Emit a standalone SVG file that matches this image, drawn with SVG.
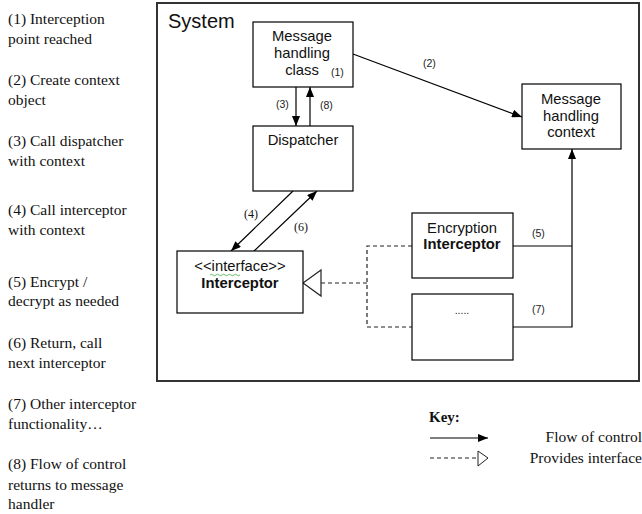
<svg xmlns="http://www.w3.org/2000/svg" width="642" height="514" viewBox="0 0 642 514">
<defs>
<marker id="arr" markerWidth="10" markerHeight="8" refX="10" refY="4" orient="auto" markerUnits="userSpaceOnUse">
<path d="M0,0 L10,4 L0,8 Z" fill="#000"/>
</marker>
<style>
.bx{fill:#fff;stroke:#000;stroke-width:1.2}
.ln{fill:none;stroke:#000;stroke-width:1.2}
.ds{fill:none;stroke:#222;stroke-width:1.2;stroke-dasharray:4,3}
.s{font-family:"Liberation Sans",Arial,sans-serif;font-size:14.8px;fill:#111;text-anchor:middle}
.b{font-weight:bold}
.sm{font-family:"Liberation Sans",Arial,sans-serif;font-size:10.5px;fill:#222}
.sr{font-family:"Liberation Serif","Times New Roman",serif;font-size:15.5px;fill:#111}
.srs{font-family:"Liberation Serif","Times New Roman",serif;font-size:12px;fill:#111}
</style>
</defs>
<rect width="642" height="514" fill="#fff"/>
<g id="legend-text" class="sr">
<text x="8" y="24">(1) Interception</text>
<text x="8" y="44">point reached</text>
<text x="8" y="85">(2) Create context</text>
<text x="8" y="105">object</text>
<text x="8" y="146">(3) Call dispatcher</text>
<text x="8" y="166">with context</text>
<text x="8" y="215">(4) Call interceptor</text>
<text x="8" y="235">with context</text>
<text x="8" y="287">(5) Encrypt /</text>
<text x="8" y="306">decrypt as needed</text>
<text x="8" y="348">(6) Return, call</text>
<text x="8" y="368">next interceptor</text>
<text x="8" y="409">(7) Other interceptor</text>
<text x="8" y="429">functionality…</text>
<text x="8" y="469">(8) Flow of control</text>
<text x="8" y="490">returns to message</text>
<text x="8" y="509">handler</text>
</g>
<g id="system">
<rect x="157" y="3" width="482" height="378" fill="none" stroke="#333" stroke-width="2"/>
<text x="168" y="28" font-family="Liberation Sans,Arial,sans-serif" font-size="20" fill="#111">System</text>
</g>
<g id="connectors">
<line class="ln" x1="296" y1="87" x2="296" y2="126" marker-end="url(#arr)"/>
<line class="ln" x1="310" y1="126" x2="310" y2="87" marker-end="url(#arr)"/>
<line class="ln" x1="353" y1="54" x2="522" y2="117" marker-end="url(#arr)"/>
<line class="ln" x1="293" y1="191" x2="231" y2="251" marker-end="url(#arr)"/>
<line class="ln" x1="254" y1="251" x2="317" y2="191" marker-end="url(#arr)"/>
<polyline class="ln" points="513,246 572,246"/>
<polyline class="ln" points="513,327 572,327 572,149" marker-end="url(#arr)"/>
<polyline class="ds" points="412,246 367,246 367,327 412,327"/>
<line class="ds" x1="367" y1="283" x2="321" y2="283"/>
<path d="M321,270 L303,283 L321,296 Z" fill="#fff" stroke="#222" stroke-width="1.2"/>
<text class="sm" x="276" y="108">(3)</text>
<text class="sm" x="320" y="109">(8)</text>
<text class="sm" x="423" y="67">(2)</text>
<text class="srs" x="244" y="218">(4)</text>
<text class="srs" x="294" y="231">(6)</text>
<text class="sm" x="532" y="237">(5)</text>
<text class="sm" x="532" y="313">(7)</text>
</g>
<g id="message-handling-class">
<rect class="bx" x="253" y="22" width="100" height="65"/>
<text class="s" x="302" y="41">Message</text>
<text class="s" x="302" y="58">handling</text>
<text class="s" x="302" y="75">class</text>
<text class="sm" x="331" y="76">(1)</text>
</g>
<g id="dispatcher">
<rect class="bx" x="253" y="126" width="100" height="65"/>
<text class="s" x="303" y="145">Dispatcher</text>
</g>
<g id="message-handling-context">
<rect class="bx" x="522" y="84" width="99" height="65"/>
<text class="s" x="571" y="104">Message</text>
<text class="s" x="571" y="121">handling</text>
<text class="s" x="571" y="137">context</text>
</g>
<g id="interceptor">
<rect class="bx" x="177" y="251" width="126" height="62"/>
<text class="s" x="240" y="271" font-size="13.5">&lt;&lt;interface&gt;&gt;</text>
<path d="M210,275 q1.5,-1.5 3,0 t3,0 t3,0 t3,0 t3,0 t3,0 t3,0 t3,0 t3,0 t3,0" fill="none" stroke="#4a4" stroke-width="0.8"/>
<text class="s b" x="240" y="288">Interceptor</text>
</g>
<g id="encryption-interceptor">
<rect class="bx" x="412" y="213" width="101" height="65"/>
<text class="s" x="462" y="233">Encryption</text>
<text class="s b" x="462" y="249">Interceptor</text>
</g>
<g id="other-interceptor">
<rect class="bx" x="412" y="294" width="101" height="66"/>
<text class="sm" x="462" y="314" text-anchor="middle" font-size="9">.....</text>
</g>
<g id="key">
<text x="429" y="422" font-family="Liberation Serif,Times New Roman,serif" font-size="15" font-weight="bold" fill="#111">Key:</text>
<line class="ln" x1="430" y1="438" x2="488" y2="438" marker-end="url(#arr)"/>
<text class="sr" x="642" y="442" text-anchor="end">Flow of control</text>
<line class="ds" x1="430" y1="458" x2="478" y2="458" stroke-dasharray="3,2"/>
<path d="M478,451 L488,458 L478,466 Z" fill="#fff" stroke="#222" stroke-width="1"/>
<text class="sr" x="642" y="463" text-anchor="end">Provides interface</text>
</g>
</svg>
